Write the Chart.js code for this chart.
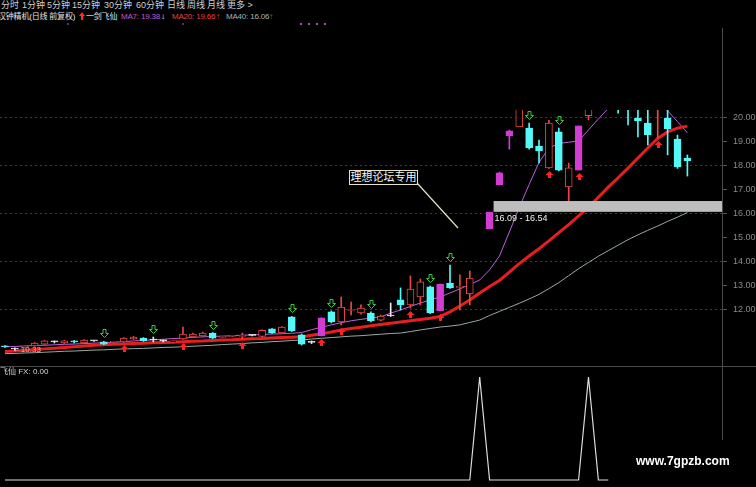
<!DOCTYPE html>
<html>
<head>
<meta charset="utf-8">
<script src="https://cdn.jsdelivr.net/npm/chart.js@4.4.0/dist/chart.umd.min.js"></script>
<style>
    body { margin: 0; background: #000; width: 756px; height: 487px; overflow: hidden; position: relative;
           font-family: "Liberation Sans", "Noto Sans CJK SC", sans-serif; }
    .t { position: absolute; white-space: nowrap; line-height: 1; }
    .menu { top: 1px; font-size: 9px; color: #cfcfcf; }
    .head { top: 13px; font-size: 8px; color: #e6e6e6; letter-spacing: -0.2px; }
    .dot { position: absolute; top: 23px; width: 2px; height: 2px; background: #b048b8; }
    .redup { position: absolute; background: #ff2a2a;
             clip-path: polygon(50% 0, 100% 50%, 68% 50%, 68% 100%, 32% 100%, 32% 50%, 0 50%); }
    #mainBox { position: absolute; left: 0; top: 110px; width: 756px; height: 255px; }
    #subBox { position: absolute; left: 0; top: 367px; width: 756px; height: 120px; }
</style>
</head>
<body>
<div class="t menu" style="left:1px">分时</div>
<div class="t menu" style="left:22px">1分钟</div>
<div class="t menu" style="left:47px">5分钟</div>
<div class="t menu" style="left:72px">15分钟</div>
<div class="t menu" style="left:104px">30分钟</div>
<div class="t menu" style="left:136px">60分钟</div>
<div class="t menu" style="left:167px">日线</div>
<div class="t menu" style="left:187px">周线</div>
<div class="t menu" style="left:207px">月线</div>
<div class="t menu" style="left:227px">更多 &gt;</div>

<div class="t head" style="left:-2px">汉钟精机(日线 前复权)</div>
<div class="redup" style="left:79px;top:12px;width:6px;height:8px"></div>
<div class="t head" style="left:86px">一剑飞仙</div>
<div class="t head" style="left:121px;color:#c25ad6">MA7: 19.38</div>
<div class="t head" style="left:161px;color:#f0f0f0">↓</div>
<div class="t head" style="left:172px;color:#e8403c">MA20: 19.66</div>
<div class="t head" style="left:216px;color:#ff3030">↑</div>
<div class="t head" style="left:226px;color:#a4b4b4">MA40: 16.06</div>
<div class="t head" style="left:269px;color:#ff3030">↑</div>
<div class="dot" style="left:67px;opacity:.6"></div>
<div class="dot" style="left:182px;opacity:.6"></div>
<div class="dot" style="left:300px"></div>
<div class="dot" style="left:308px"></div>
<div class="dot" style="left:316px"></div>
<div class="dot" style="left:324px"></div>

<div id="mainBox"><canvas id="main" width="756" height="255"></canvas></div>
<div id="subBox"><canvas id="sub" width="756" height="120"></canvas></div>

<div style="position:absolute;left:0;top:366px;width:756px;height:1px;background:#4a4a4a"></div>
<div style="position:absolute;left:722px;top:28px;width:1px;height:412px;background:#4a4a4a"></div>

<div class="t" style="left:349px;top:170px;width:67px;height:13px;border:1px solid #e6e2c6;background:#000;color:#f4f4f4;font-size:11px;line-height:13px;text-align:center">理想论坛专用</div>
<svg style="position:absolute;left:0;top:0" width="756" height="487">
    <line x1="417" y1="183" x2="458" y2="228" stroke="#e6e2c6" stroke-width="1.2"/>
</svg>

<div id="lowLabel" class="t" style="font-size:8px;color:#c8c8c8">←10.33</div>
<div id="bandLabel" class="t" style="font-size:9px;color:#f0f0f0">16.09 - 16.54</div>
<div class="t" style="left:0;top:368px;font-size:8px;color:#d6d6d6">飞仙 FX: 0.00</div>
<div class="t" style="left:636px;top:455px;font-size:12px;font-weight:bold;color:#fff;background:#000">www.7gpzb.com</div>

<script>
// 日K线数据 (第48天无显示)
const open = [10.50, 10.375, 10.44, 10.50, 10.58, 10.67, 10.625, 10.69, 10.625, 10.71,
    10.67, 10.65, 10.67, 10.79, 10.83, 10.75, 10.71, 10.67, 10.79, 10.875,
    10.92, 11.04, 10.86, 10.90, 10.90, 10.94, 10.90, 11.21, 11.04, 11.71,
    10.96, 10.65, 10.92, 11.92, 11.50, 11.98, 11.875, 11.875, 11.58, 11.75,
    12.42, 12.21, 12.54, 12.96, 11.96, 13.125, 12.94, 12.67, null, 15.375,
    17.21, 19.25, 19.625, 19.58, 18.83, 17.92, 19.42, 17.125, 17.83, 20.1,
    20.6, 21.5, 21.0, 20.9, 20.0, 19.79, 20.4, 20.0, 19.125, 18.33];
const close = [10.46, 10.375, 10.46, 10.625, 10.71, 10.67, 10.71, 10.67, 10.75, 10.71,
    10.58, 10.67, 10.83, 10.875, 10.71, 10.75, 10.71, 10.69, 11.00, 11.00,
    11.04, 10.83, 10.875, 10.92, 10.92, 10.94, 11.15, 11.04, 11.29, 11.125,
    10.58, 10.65, 11.67, 11.50, 12.125, 12.00, 12.08, 11.54, 11.75, 11.75,
    12.21, 12.875, 13.17, 11.875, 13.08, 12.92, 12.96, 13.33, null, 16.08,
    17.71, 19.46, 20.9, 18.75, 18.625, 19.79, 17.83, 17.92, 19.67, 20.6,
    21.2, 21.0, 20.6, 20.5, 19.875, 19.29, 20.9, 19.54, 17.96, 18.21];
const high = [10.52, 10.42, 10.48, 10.65, 10.73, 10.71, 10.73, 10.73, 10.77, 10.73,
    10.69, 10.69, 10.85, 10.90, 10.85, 10.875, 10.75, 10.71, 11.29, 11.04,
    11.08, 11.06, 10.90, 10.94, 11.04, 10.96, 11.17, 11.23, 11.31, 11.73,
    11.00, 10.71, 11.67, 11.96, 12.54, 12.33, 12.21, 11.92, 11.79, 12.29,
    12.92, 13.42, 13.29, 13.00, 13.08, 13.875, 13.46, 13.625, null, 16.08,
    17.74, 19.50, 21.46, 19.79, 19.08, 19.90, 19.58, 18.125, 19.67, 21.0,
    21.5, 22.0, 21.4, 21.2, 20.6, 20.5, 21.2, 20.6, 19.29, 18.46];
const low = [10.44, 10.33, 10.42, 10.48, 10.56, 10.625, 10.60, 10.625, 10.60, 10.69,
    10.56, 10.625, 10.65, 10.77, 10.69, 10.67, 10.67, 10.65, 10.77, 10.85,
    10.90, 10.81, 10.85, 10.88, 10.79, 10.92, 10.875, 11.02, 11.02, 11.10,
    10.54, 10.60, 10.92, 11.46, 11.375, 11.79, 11.83, 11.50, 11.54, 11.73,
    12.00, 12.08, 12.21, 11.85, 11.96, 12.90, 12.00, 12.21, null, 15.375,
    17.21, 18.70, 19.68, 18.70, 18.125, 17.90, 17.80, 16.50, 17.83, 19.92,
    20.40, 20.45, 20.20, 19.71, 19.21, 18.875, 19.17, 18.46, 17.90, 17.58];

const ma7 = [10.47, 10.48, 10.50, 10.52, 10.53, 10.55, 10.57, 10.58, 10.60, 10.62,
    10.63, 10.66, 10.68, 10.71, 10.73, 10.76, 10.78, 10.81, 10.83, 10.86,
    10.88, 10.90, 10.91, 10.93, 10.95, 10.96, 10.98, 11.00, 11.01, 11.03,
    11.06, 11.18, 11.28, 11.38, 11.47, 11.55, 11.61, 11.66, 11.72, 11.87,
    12.00, 12.15, 12.29, 12.42, 12.54, 12.71, 12.88, 13.06, 13.25, 13.67,
    14.25, 15.25, 16.27, 17.23, 18.15, 18.75, 18.94, 18.99, 19.04, 19.50,
    19.96, 20.40, 20.70, 20.85, 20.90, 20.85, 20.65, 20.30, 19.85, 19.38];
const ma20 = [10.27, 10.29, 10.32, 10.35, 10.38, 10.41, 10.44, 10.47, 10.50, 10.53,
    10.55, 10.57, 10.58, 10.60, 10.61, 10.63, 10.65, 10.66, 10.68, 10.70,
    10.71, 10.73, 10.75, 10.76, 10.78, 10.80, 10.81, 10.83, 10.85, 10.86,
    10.88, 10.95, 11.01, 11.08, 11.17, 11.23, 11.28, 11.34, 11.40, 11.45,
    11.50, 11.55, 11.60, 11.66, 11.73, 11.92, 12.17, 12.42, 12.71, 12.98,
    13.23, 13.58, 13.93, 14.25, 14.55, 14.88, 15.22, 15.56, 15.92, 16.28,
    16.70, 17.12, 17.51, 17.91, 18.33, 18.75, 19.15, 19.42, 19.58, 19.66];
const ma40 = [10.18, 10.19, 10.21, 10.22, 10.24, 10.26, 10.28, 10.29, 10.31, 10.33,
    10.34, 10.36, 10.38, 10.39, 10.40, 10.42, 10.44, 10.45, 10.47, 10.49,
    10.51, 10.53, 10.56, 10.58, 10.60, 10.63, 10.65, 10.68, 10.70, 10.73,
    10.75, 10.79, 10.82, 10.85, 10.88, 10.91, 10.93, 10.96, 10.99, 11.02,
    11.04, 11.10, 11.17, 11.23, 11.29, 11.33, 11.38, 11.48, 11.58, 11.77,
    11.94, 12.11, 12.28, 12.46, 12.65, 12.89, 13.14, 13.43, 13.72, 13.98,
    14.24, 14.47, 14.70, 14.93, 15.13, 15.32, 15.50, 15.69, 15.87, 16.06];

// 一剑飞仙 信号
const signalDays = [32, 44, 49, 50, 51, 58];
const greenArrowDays = [10, 15, 21, 29, 33, 37, 43, 45, 53, 56];
const redArrowDays = [12, 18, 24, 32, 34, 41, 44, 55, 58, 66];
const fx = [0, 0, 0, 0, 0, 0, 0, 0, 0, 0,
    0, 0, 0, 0, 0, 0, 0, 0, 0, 0,
    0, 0, 0, 0, 0, 0, 0, 0, 0, 0,
    0, 0, 0, 0, 0, 0, 0, 0, 0, 0,
    0, 0, 0, 0, 0, 0, 0, 0, 1, 0,
    0, 0, 0, 0, 0, 0, 0, 0, 0, 1,
    0, 0];

const bandStart = 49;
const bandLow = 16.09;
const bandHigh = 16.54;
const lowDay = 1;
const lowPrice = 10.33;

const yTicks = [12, 13, 14, 15, 16, 17, 18, 19, 20];
const days = [];
for (let i = 0; i < 73; i++) days.push(String(i + 1));

const RED = '#e84848', CYAN = '#54f8f8', MAGENTA = '#d23cd2', WHITE = '#e8e8e8';

let edge = [], fill = [], bodies = [], wicks = [];
for (let i = 0; i < open.length; i++) {
    if (open[i] === null) {
        bodies.push(null); wicks.push(null); edge.push(RED); fill.push(RED);
        continue;
    }
    let c;
    if (signalDays.includes(i)) c = MAGENTA;
    else if (close[i] > open[i]) c = RED;
    else if (close[i] < open[i]) c = CYAN;
    else c = WHITE;
    edge.push(c);
    fill.push(c === RED ? '#000' : c);
    bodies.push([open[i], close[i]]);
    wicks.push([low[i], high[i]]);
}

const marks = {
    id: 'marks',
    afterDatasetsDraw(chart) {
        const { ctx, chartArea } = chart;
        const x = chart.scales.x, y = chart.scales.y;
        ctx.save();
        // 压力带
        const bx = x.getPixelForValue(bandStart) + 4;
        const yt = y.getPixelForValue(bandHigh), yb = y.getPixelForValue(bandLow);
        ctx.fillStyle = '#bebebe';
        ctx.fillRect(bx, yt, chartArea.right - bx, yb - yt);

        ctx.lineWidth = 1;
        ctx.strokeStyle = '#3cc83c';
        greenArrowDays.forEach(i => {
            const cx = Math.round(x.getPixelForValue(i)) + 0.5;
            const tip = Math.round(y.getPixelForValue(high[i])) - 3.5;
            ctx.beginPath();
            ctx.moveTo(cx, tip);
            ctx.lineTo(cx - 4, tip - 4);
            ctx.lineTo(cx - 1.5, tip - 4);
            ctx.lineTo(cx - 1.5, tip - 8);
            ctx.lineTo(cx + 1.5, tip - 8);
            ctx.lineTo(cx + 1.5, tip - 4);
            ctx.lineTo(cx + 4, tip - 4);
            ctx.closePath();
            ctx.stroke();
        });
        ctx.fillStyle = '#ff2222';
        redArrowDays.forEach(i => {
            const cx = Math.round(x.getPixelForValue(i)) + 0.5;
            const top = Math.round(y.getPixelForValue(low[i])) + 3;
            ctx.beginPath();
            ctx.moveTo(cx, top);
            ctx.lineTo(cx + 4, top + 4);
            ctx.lineTo(cx + 1.5, top + 4);
            ctx.lineTo(cx + 1.5, top + 7);
            ctx.lineTo(cx - 1.5, top + 7);
            ctx.lineTo(cx - 1.5, top + 4);
            ctx.lineTo(cx - 4, top + 4);
            ctx.closePath();
            ctx.fill();
        });
        ctx.restore();
    }
};

const mainChart = new Chart(document.getElementById('main'), {
    type: 'bar',
    data: {
        labels: days,
        datasets: [
            { type: 'line', data: ma7, borderColor: '#b862d8', borderWidth: 1, pointRadius: 0, order: 5 },
            { type: 'line', data: ma20, borderColor: '#e81e1e', borderWidth: 3, pointRadius: 0, order: 4 },
            { type: 'line', data: ma40, borderColor: '#98a8a8', borderWidth: 1, pointRadius: 0, order: 6 },
            { data: wicks, backgroundColor: edge, barThickness: 1, grouped: false, order: 2 },
            { data: bodies, backgroundColor: fill, borderColor: edge, borderWidth: 1, borderSkipped: false,
              barThickness: 7, minBarLength: 1, grouped: false, order: 1 }
        ]
    },
    options: {
        responsive: false,
        animation: false,
        events: [],
        layout: { padding: 0, autoPadding: false },
        plugins: { legend: { display: false }, tooltip: { enabled: false } },
        scales: {
            x: { display: false, offset: true },
            y: {
                position: 'right',
                min: 9.708,
                max: 20.333,
                ticks: {
                    stepSize: 1,
                    color: '#8a8a8a',
                    padding: 6,
                    font: { size: 9, family: 'Liberation Sans' },
                    callback: (v) => Number(v).toFixed(2)
                },
                grid: {
                    color: (c) => (c.tick && c.tick.value % 2 === 0) ? '#3a3a3a' : 'rgba(0,0,0,0)',
                    tickColor: '#555',
                    tickLength: 5
                },
                border: { display: false, dash: [2, 3] },
                afterBuildTicks: (s) => { s.ticks = yTicks.map(v => ({ value: v })); },
                afterFit: (s) => { s.width = 34; s.paddingTop = 0; s.paddingBottom = 0; }
            }
        }
    },
    plugins: [marks]
});

new Chart(document.getElementById('sub'), {
    type: 'line',
    data: {
        labels: days,
        datasets: [{ data: fx, borderColor: '#dcdcdc', borderWidth: 1.2, pointRadius: 0 }]
    },
    options: {
        responsive: false,
        animation: false,
        events: [],
        layout: { padding: { right: 34 }, autoPadding: false },
        plugins: { legend: { display: false }, tooltip: { enabled: false } },
        scales: {
            x: { display: false, offset: true },
            y: { display: false, min: -0.068, max: 1.097 }
        }
    }
});

// 标签位置取自坐标轴
const sx = mainChart.scales.x, sy = mainChart.scales.y;
const lowLabel = document.getElementById('lowLabel');
lowLabel.style.left = (sx.getPixelForValue(lowDay) - 2) + 'px';
lowLabel.style.top = (110 + sy.getPixelForValue(lowPrice) - 4) + 'px';
const bandLabel = document.getElementById('bandLabel');
bandLabel.style.left = (sx.getPixelForValue(bandStart) + 5) + 'px';
bandLabel.style.top = (110 + sy.getPixelForValue(bandLow) + 2) + 'px';
</script>
</body>
</html>
